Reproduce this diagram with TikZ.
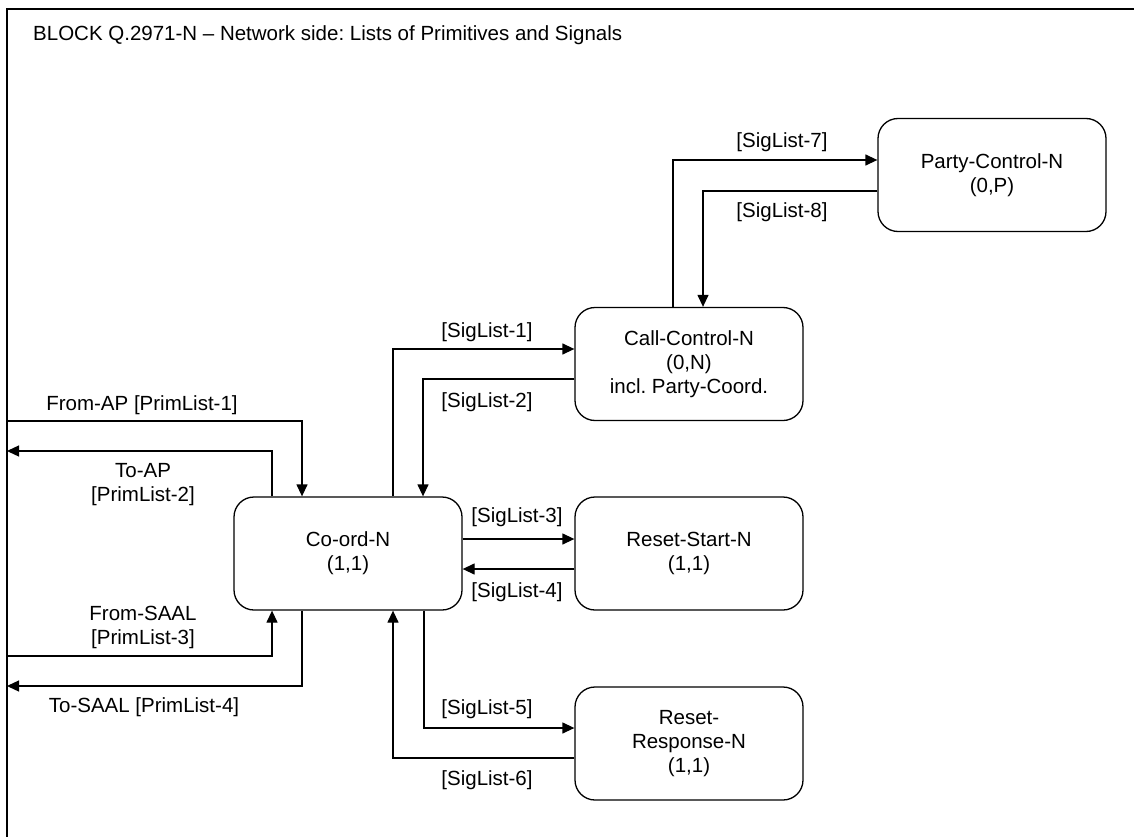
\documentclass[tikz,border=0pt]{standalone}
\usepackage{fontspec}
\setmainfont{Liberation Sans}
\usetikzlibrary{arrows.meta,calc}
\frenchspacing
\begin{document}
\begin{tikzpicture}[x=1pt,y=-1pt,
  every node/.style={font=\fontsize{20.5}{24}\selectfont, inner sep=0pt, align=center},
  proc/.style={draw, line width=1.3pt, rounded corners=20pt, minimum width=228pt, minimum height=113pt},
  conn/.style={line width=1.3pt, -{Triangle[length=12pt,width=11pt]}},
  frame/.style={line width=2pt}]
\useasboundingbox (0,0) rectangle (1134,837);
% frame
\coordinate (ftr) at (1134,9);
\coordinate (ftl) at (7,9);
\coordinate (fbl) at (7,837);
\draw[frame] (ftr) -- (ftl) -- (fbl);
\node[anchor=west] (title) at (33,35) {BLOCK Q.2971-N – Network side: Lists of Primitives and Signals};
% boxes
\node[proc] (pc) at (992,175) {Party-Control-N\\(0,P)};
\node[proc] (cc) at (689,364) {Call-Control-N\\(0,N)\\incl. Party-Coord.};
\node[proc] (co) at (348,553.5) {Co-ord-N\\(1,1)};
\node[proc] (rs) at (689,553.5) {Reset-Start-N\\(1,1)};
\node[proc] (rr) at (689,743.5) {Reset-\\Response-N\\(1,1)};
% Call-Control <-> Party-Control
\draw[conn] (cc.north -| 673,0) |- (pc.west |- 0,160);
\draw[conn] (pc.west |- 0,191) -| (cc.north -| 703,0);
\node (l7) at (782,142) {[SigList-7]};
\node (l8) at (782,212) {[SigList-8]};
% Co-ord <-> Call-Control
\draw[conn] (co.north -| 393,0) |- (cc.west |- 0,349);
\draw[conn] (cc.west |- 0,379) -| (co.north -| 423,0);
\node (l1) at (487,332) {[SigList-1]};
\node (l2) at (487,402) {[SigList-2]};
% Co-ord <-> Reset-Start
\draw[conn] (co.east |- 0,539) -- (rs.west |- 0,539);
\draw[conn] (rs.west |- 0,569) -- (co.east |- 0,569);
\node (l3) at (517,517) {[SigList-3]};
\node (l4) at (517,592) {[SigList-4]};
% Co-ord <-> Reset-Response
\draw[conn] (co.south -| 424,0) |- (rr.west |- 0,728);
\draw[conn] (rr.west |- 0,758) -| (co.south -| 393,0);
\node (l5) at (487,709) {[SigList-5]};
\node (l6) at (487,780) {[SigList-6]};
% environment
\coordinate (fromap) at (7,421);
\coordinate (toap) at (7,451);
\coordinate (fromsaal) at (7,656);
\coordinate (tosaal) at (7,686);
\draw[conn] (fromap) -| (co.north -| 302,0);
\draw[conn] (co.north -| 272,0) |- (toap);
\draw[conn] (fromsaal) -| (co.south -| 272,0);
\draw[conn] (co.south -| 302,0) |- (tosaal);
\node (lfa) at (142,405) {From-AP [PrimList-1]};
\node (lta) at (143,485) {To-AP\\{}[PrimList-2]};
\node (lfs) at (143,627) {From-SAAL\\{}[PrimList-3]};
\node (lts) at (144,707) {To-SAAL [PrimList-4]};
\end{tikzpicture}
\end{document}
